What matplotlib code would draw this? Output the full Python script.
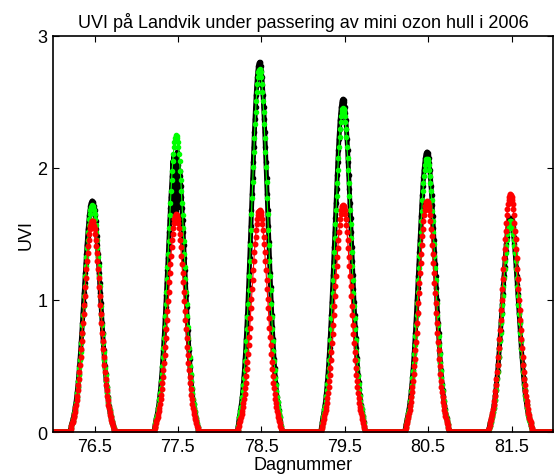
import numpy as np
import matplotlib
matplotlib.use('Agg') # Ingen skjerm
import matplotlib.pyplot as plt

# Data lest av figuren
dager = [76, 77, 78, 79, 80, 81] # Dagnummer
middag = [76.475, 77.478, 78.48, 79.482, 80.485, 81.488] # Tidspunkt for toppen
topp_maalt = [1.75, 2.20, 2.80, 2.52, 2.12, 1.62] # Svart (maalt)
topp_gronn = [1.72, 2.25, 2.75, 2.45, 2.07, 1.60] # Gronn kurve
topp_rod = [1.60, 1.65, 1.68, 1.72, 1.75, 1.80] # Rod kurve
# Relativ form av dagskurven, 10 min steg fra middag og utover
profil = [1.000, 0.997, 0.990, 0.977, 0.959, 0.937, 0.911, 0.880, 0.847, 0.810,
          0.771, 0.730, 0.687, 0.644, 0.600, 0.557, 0.514, 0.471, 0.430, 0.391,
          0.353, 0.317, 0.284, 0.252, 0.223, 0.197, 0.172, 0.150, 0.130, 0.112,
          0.096, 0.082, 0.070, 0.059, 0.049, 0.041, 0.029, 0.017, 0.007, 0.000]
# Maalt UVI dag 77 rundt middag (skyer), -60 min til +60 min
sky_77 = [2.05, 1.80, 2.10, 1.65, 1.95, 2.08, 1.62, 1.90, 2.12, 1.70, 2.02, 1.75, 1.98]

steg = 144 # antall 10 min steg per dag
tid = dager[0] + np.arange(len(dager)*steg + 1)/steg
form = np.array(profil)

def lag_serie(topper): # Bygger en serie fra toppene og formen
    uvi = np.zeros(len(tid))
    for d in range(len(dager)):
        k = np.round((tid - middag[d])*steg).astype(int)
        inne = np.abs(k) < len(form)
        uvi[inne] = topper[d]*form[np.abs(k[inne])]
    return uvi

maalt = lag_serie(topp_maalt)
gronn = lag_serie(topp_gronn)
rod = lag_serie(topp_rod)
k77 = np.round((tid - middag[1])*steg).astype(int)
halv = len(sky_77)//2
idx = np.where(np.abs(k77) <= halv)[0]
maalt[idx] = sky_77 # Skyer dag 77

plt.rcParams['font.family'] = ['Liberation Sans', 'DejaVu Sans']
fig = plt.figure(figsize=(5.56, 4.77), dpi=100)
ax = fig.add_axes([0.095, 0.092, 0.9, 0.831])

ax.plot(tid, maalt, 'k.-', linewidth=3.5, markersize=6)
ax.plot(tid, gronn, '.-', color='#00ff00', linewidth=0.8, markersize=6)
ax.plot(tid, rod, '.-', color='#ff0000', linewidth=0.8, markersize=6.5)

ax.set_xlim(76, 82)
ax.set_ylim(0, 3)
ax.set_xticks([76.5, 77.5, 78.5, 79.5, 80.5, 81.5])
ax.set_xticklabels(['76.5', '77.5', '78.5', '79.5', '80.5', '81.5'])
ax.set_yticks([0, 1, 2, 3])
ax.tick_params(direction='in', top=True, right=True, length=4, labelsize=13, pad=4)
for s in ax.spines.values():
    s.set_linewidth(1.2)
ax.set_title('UVI på Landvik under passering av mini ozon hull i 2006', fontsize=13, pad=6)
ax.set_xlabel('Dagnummer', fontsize=13, labelpad=1)
ax.set_ylabel('UVI', fontsize=13, labelpad=2)

fig.savefig('out.png', dpi=100)
